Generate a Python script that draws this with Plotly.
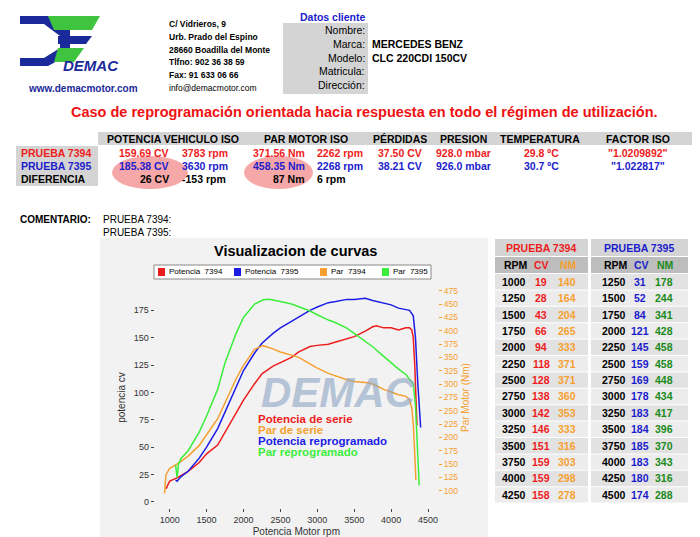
import plotly.graph_objects as go

W, H = 700, 537
# curve data (rpm, value)
rpm_pot_7394 = [950, 1000, 1100, 1250, 1400, 1500, 1650, 1750, 1900, 2000, 2150, 2250, 2400, 2500, 2650, 2750, 2900, 3000, 3150, 3250, 3400, 3500, 3650, 3750, 3800, 3900, 4000, 4100, 4200, 4250, 4280, 4300, 4320, 4340, 4350]
cv_pot_7394 = [12, 19, 22, 28, 36, 44, 52, 64, 82, 93, 108, 117, 124, 127, 132, 137, 142, 143, 144, 146, 149, 151, 156, 160, 161, 159, 159, 157, 159, 159, 157, 150, 125, 90, 70]
rpm_pot_7395 = [1080, 1100, 1150, 1250, 1400, 1500, 1650, 1750, 1900, 2000, 2150, 2250, 2400, 2500, 2650, 2750, 2900, 3000, 3150, 3250, 3400, 3500, 3650, 3750, 3900, 4000, 4100, 4200, 4250, 4300, 4330, 4360, 4380, 4400]
cv_pot_7395 = [20, 19, 23, 28, 40, 50, 67, 82, 104, 120, 136, 145, 154, 159, 165, 169, 175, 178, 182, 183, 185, 185, 186, 184, 182, 180, 177, 176, 175, 170, 150, 110, 85, 68]
rpm_par_7394 = [930, 950, 1000, 1100, 1250, 1400, 1500, 1650, 1750, 1900, 2000, 2150, 2262, 2400, 2500, 2650, 2750, 2900, 3000, 3150, 3250, 3400, 3500, 3650, 3750, 3900, 4000, 4100, 4200, 4250, 4280, 4300, 4320, 4335]
nm_par_7394 = [95, 130, 142, 150, 165, 185, 205, 235, 265, 310, 335, 365, 372, 366, 360, 354, 350, 338, 330, 320, 315, 308, 305, 303, 300, 290, 285, 280, 277, 270, 255, 225, 170, 120]
rpm_par_7395 = [1080, 1090, 1100, 1120, 1150, 1250, 1400, 1500, 1650, 1750, 1900, 2000, 2150, 2268, 2350, 2500, 2650, 2750, 2900, 3000, 3150, 3250, 3400, 3500, 3650, 3750, 3900, 4000, 4100, 4200, 4250, 4300, 4330, 4360, 4380]
nm_par_7395 = [148, 140, 125, 150, 160, 175, 210, 240, 290, 340, 395, 425, 450, 458, 459, 455, 450, 445, 437, 430, 420, 415, 405, 395, 380, 370, 352, 340, 328, 318, 310, 300, 260, 180, 110]

# side table data
t1_rpm = [1000, 1250, 1500, 1750, 2000, 2250, 2500, 2750, 3000, 3250, 3500, 3750, 4000, 4250]
t1_cv = [19, 28, 43, 66, 94, 118, 128, 138, 142, 146, 151, 159, 159, 158]
t1_nm = [140, 164, 204, 265, 333, 371, 371, 360, 353, 333, 316, 303, 298, 278]
t2_rpm = [1250, 1500, 1750, 2000, 2250, 2500, 2750, 3000, 3250, 3500, 3750, 4000, 4250, 4500]
t2_cv = [31, 52, 84, 121, 145, 159, 169, 178, 183, 184, 185, 183, 180, 174]
t2_nm = [178, 244, 341, 428, 458, 458, 448, 434, 417, 396, 370, 343, 316, 288]

RED, BLUE, ORANGE, GREEN = "#ee1c1c", "#1c1ce6", "#f5a030", "#3cee3c"
FONT = "Liberation Sans, Arial, sans-serif"

def px(x): return x / W
def py(y): return 1 - y / H

fig = go.Figure()
fig.add_trace(go.Scatter(x=rpm_pot_7394, y=cv_pot_7394, mode="lines", line=dict(color=RED, width=1.5), showlegend=False))
fig.add_trace(go.Scatter(x=rpm_pot_7395, y=cv_pot_7395, mode="lines", line=dict(color=BLUE, width=1.5), showlegend=False))
fig.add_trace(go.Scatter(x=rpm_par_7394, y=nm_par_7394, mode="lines", yaxis="y2", line=dict(color=ORANGE, width=1.5), showlegend=False))
fig.add_trace(go.Scatter(x=rpm_par_7395, y=nm_par_7395, mode="lines", yaxis="y2", line=dict(color=GREEN, width=1.5), showlegend=False))

shapes, ann = [], []
def rect(x0, y0, x1, y1, color, line=None, layer="below"):
    shapes.append(dict(type="rect", xref="paper", yref="paper", x0=px(x0), x1=px(x1), y0=py(y1), y1=py(y0),
                       fillcolor=color, line=dict(width=0) if line is None else line, layer=layer))
def text(x, y, s, size=10, color="black", bold=False, anchor="left", italic=False, opacity=1):
    if bold: s = "<b>" + s + "</b>"
    if italic: s = "<i>" + s + "</i>"
    ann.append(dict(xref="paper", yref="paper", x=px(x), y=py(y), text=s, showarrow=False, xanchor=anchor, yanchor="middle",
                    font=dict(family=FONT, size=size, color=color), opacity=opacity))

# logo
def poly(pts, color, opacity=1):
    p = "M " + " L ".join(f"{px(a)},{py(b)}" for a, b in pts) + " Z"
    shapes.append(dict(type="path", xref="paper", yref="paper", path=p, fillcolor=color, line=dict(width=0), opacity=opacity, layer="below"))
poly([(12, 8), (40, 8), (62, 22), (62, 46), (40, 58), (12, 58), (12, 50), (36, 50), (52, 40), (52, 28), (36, 16), (12, 16)], "#1a2a9a")
poly([(40, 8), (92, 8), (84, 22), (46, 22)], "#3ec43e")
poly([(50, 28), (84, 28), (78, 36), (50, 36)], "#1a2a9a")
poly([(50, 40), (76, 40), (66, 54), (46, 54)], "#3ec43e")
text(83, 57, "DEMAC", 15, "#1a2a9a", bold=True, anchor="center", italic=True)
text(18, 80, "www.demacmotor.com", 10, "#1a2a9a", bold=True)
for i, s in enumerate(["C/ Vidrieros, 9", "Urb. Prado del Espino", "28660 Boadilla del Monte", "Tlfno: 902 36 38 59", "Fax: 91 633 06 66", "info@demacmotor.com"]):
    text(159, 16 + i * 12.8, s, 8.5, "black", bold=(i < 5))
text(325, 9, "Datos cliente", 10.5, "#1c1ccc", bold=True, anchor="center")
rect(275, 15, 360, 86, "#d4d4d4")
for i, (lab, val) in enumerate([("Nombre:", ""), ("Marca:", "MERCEDES BENZ"), ("Modelo:", "CLC 220CDI 150CV"), ("Matricula:", ""), ("Dirección:", "")]):
    y = 22 + i * 13.8
    text(359, y, lab, 10.5, "black", anchor="right")
    if val: text(362, y, val, 10.5, "black", bold=True)

text(356, 104, "Caso de reprogramación orientada hacia respuesta en todo el régimen de utilización.", 14.5, "#ee1111", bold=True, anchor="center")

# middle table
rect(90, 124, 690, 137, "#d4d4d4")
rect(8, 138, 90, 178, "#d4d4d4")
for x, s in [(165, "POTENCIA VEHICULO ISO"), (298, "PAR MOTOR ISO"), (392, "PÉRDIDAS"), (455, "PRESION"), (532, "TEMPERATURA"), (630, "FACTOR ISO")]:
    text(x, 131, s, 10.5, "black", bold=True, anchor="center")
shapes.append(dict(type="circle", xref="paper", yref="paper", x0=px(104), x1=px(180), y0=py(181), y1=py(148), fillcolor="rgba(240,110,110,0.6)", line=dict(width=0), layer="below"))
shapes.append(dict(type="circle", xref="paper", yref="paper", x0=px(236), x1=px(305), y0=py(181), y1=py(148), fillcolor="rgba(240,110,110,0.6)", line=dict(width=0), layer="below"))
rows = [("PRUEBA 7394", RED, ["159.69 CV", "3783 rpm", "371.56 Nm", "2262 rpm", "37.50 CV", "928.0 mbar", "29.8 ºC", "\"1.0209892\""]),
        ("PRUEBA 7395", "#1c1ccc", ["185.38 CV", "3630 rpm", "458.35 Nm", "2268 rpm", "38.21 CV", "926.0 mbar", "30.7 ºC", "\"1.022817\""]),
        ("DIFERENCIA", "black", ["26 CV", "-153 rpm", "87 Nm", "6 rpm", "", "", "", ""])]
xs = [163, 172, 299, 307, 392, 455, 533, 630]
anchors = ["right", "left", "right", "left", "center", "center", "center", "center"]
for r, (lab, col, vals) in enumerate(rows):
    y = 145 + r * 13
    text(11, y, lab, 10.5, col, bold=True)
    for x, a, v in zip(xs, anchors, vals):
        if v: text(x, y, v, 10.5, col, bold=True, anchor=a)
text(10, 211, "COMENTARIO:", 10, "black", bold=True)
text(93, 211, "PRUEBA 7394:", 10)
text(93, 224, "PRUEBA 7395:", 10)

# chart panel
rect(92, 230, 480, 537, "#f2f2f2")
text(287, 243, "Visualizacion de curvas", 14.5, "black", bold=True, anchor="center")
rect(146, 257, 423, 271, "white", line=dict(color="#888", width=1))
for x, lab, c in [(150, "Potencia  7394", RED), (226, "Potencia  7395", BLUE), (312, "Par  7394", ORANGE), (374, "Par  7395", GREEN)]:
    rect(x, 260, x + 7, 268, c)
    text(x + 9, 264, lab, 8, "black")
text(330, 384, "DEMAC", 42, "#8ea4c4", bold=True, italic=True, anchor="center", opacity=0.6)
for i, (s, c) in enumerate([("Potencia de serie", RED), ("Par de serie", ORANGE), ("Potencia reprogramado", BLUE), ("Par reprogramado", GREEN)]):
    text(248, 411 + i * 11, s, 11.5, c, bold=True)

# side table
rect(487, 231, 580, 248, "#d4d4d4"); rect(583, 231, 680, 248, "#d4d4d4")
rect(487, 249, 580, 265, "#bdbdbd"); rect(583, 249, 680, 265, "#bdbdbd")
text(533, 240, "PRUEBA 7394", 10.5, RED, bold=True, anchor="center")
text(631, 240, "PRUEBA 7395", 10.5, "#1c1ccc", bold=True, anchor="center")
for x, s, c in [(508, "RPM", "black"), (533, "CV", RED), (560, "NM", ORANGE), (608, "RPM", "black"), (633, "CV", "#1c1ccc"), (657, "NM", "#1a8a1a")]:
    text(x, 257, s, 10.5, c, bold=True, anchor="center")
for i in range(14):
    y0 = 266 + i * 16.4
    col = "#e2e2e2" if i % 2 == 0 else "#ececec"
    rect(487, y0, 580, y0 + 15.4, col); rect(583, y0, 680, y0 + 15.4, col)
    y = y0 + 7.7
    text(520, y, str(t1_rpm[i]), 10.5, "black", bold=True, anchor="right")
    text(533, y, str(t1_cv[i]), 10.5, RED, bold=True, anchor="center")
    text(559, y, str(t1_nm[i]), 10.5, ORANGE, bold=True, anchor="center")
    text(620, y, str(t2_rpm[i]), 10.5, "black", bold=True, anchor="right")
    text(632, y, str(t2_cv[i]), 10.5, "#1c1ccc", bold=True, anchor="center")
    text(656, y, str(t2_nm[i]), 10.5, "#1a8a1a", bold=True, anchor="center")

fig.update_layout(
    width=W, height=H, margin=dict(l=0, r=0, t=0, b=0), paper_bgcolor="white", plot_bgcolor="#e4e4e4",
    font=dict(family=FONT, size=9, color="#333"), showlegend=False, shapes=shapes, annotations=ann,
    xaxis=dict(domain=[146.7 / W, 430 / W], range=[797, 4635], tickvals=[1000, 1500, 2000, 2500, 3000, 3500, 4000, 4500],
               showgrid=True, gridcolor="#f4f4f4", zeroline=False, ticks="outside", ticklen=3,
               title=dict(text="Potencia Motor rpm", font=dict(size=10, color="#333"), standoff=4), showline=False),
    yaxis=dict(domain=[1 - 500 / H, 1 - 279 / H], range=[-5.5, 196.3], tickvals=[0, 25, 50, 75, 100, 125, 150, 175],
               showgrid=True, gridcolor="#f4f4f4", zeroline=False, ticks="outside", ticklen=3,
               title=dict(text="potencia cv", font=dict(size=10, color="#333"), standoff=6)),
    yaxis2=dict(overlaying="y", side="right", range=[67.6, 482], tickvals=list(range(100, 476, 25)), showgrid=False,
                zeroline=False, tickfont=dict(color=ORANGE, size=8.5), ticks="outside", ticklen=3, tickcolor=ORANGE,
                title=dict(text="Par Motor (Nm)", font=dict(size=10, color=ORANGE), standoff=4)),
)
fig.write_html("out.html")
